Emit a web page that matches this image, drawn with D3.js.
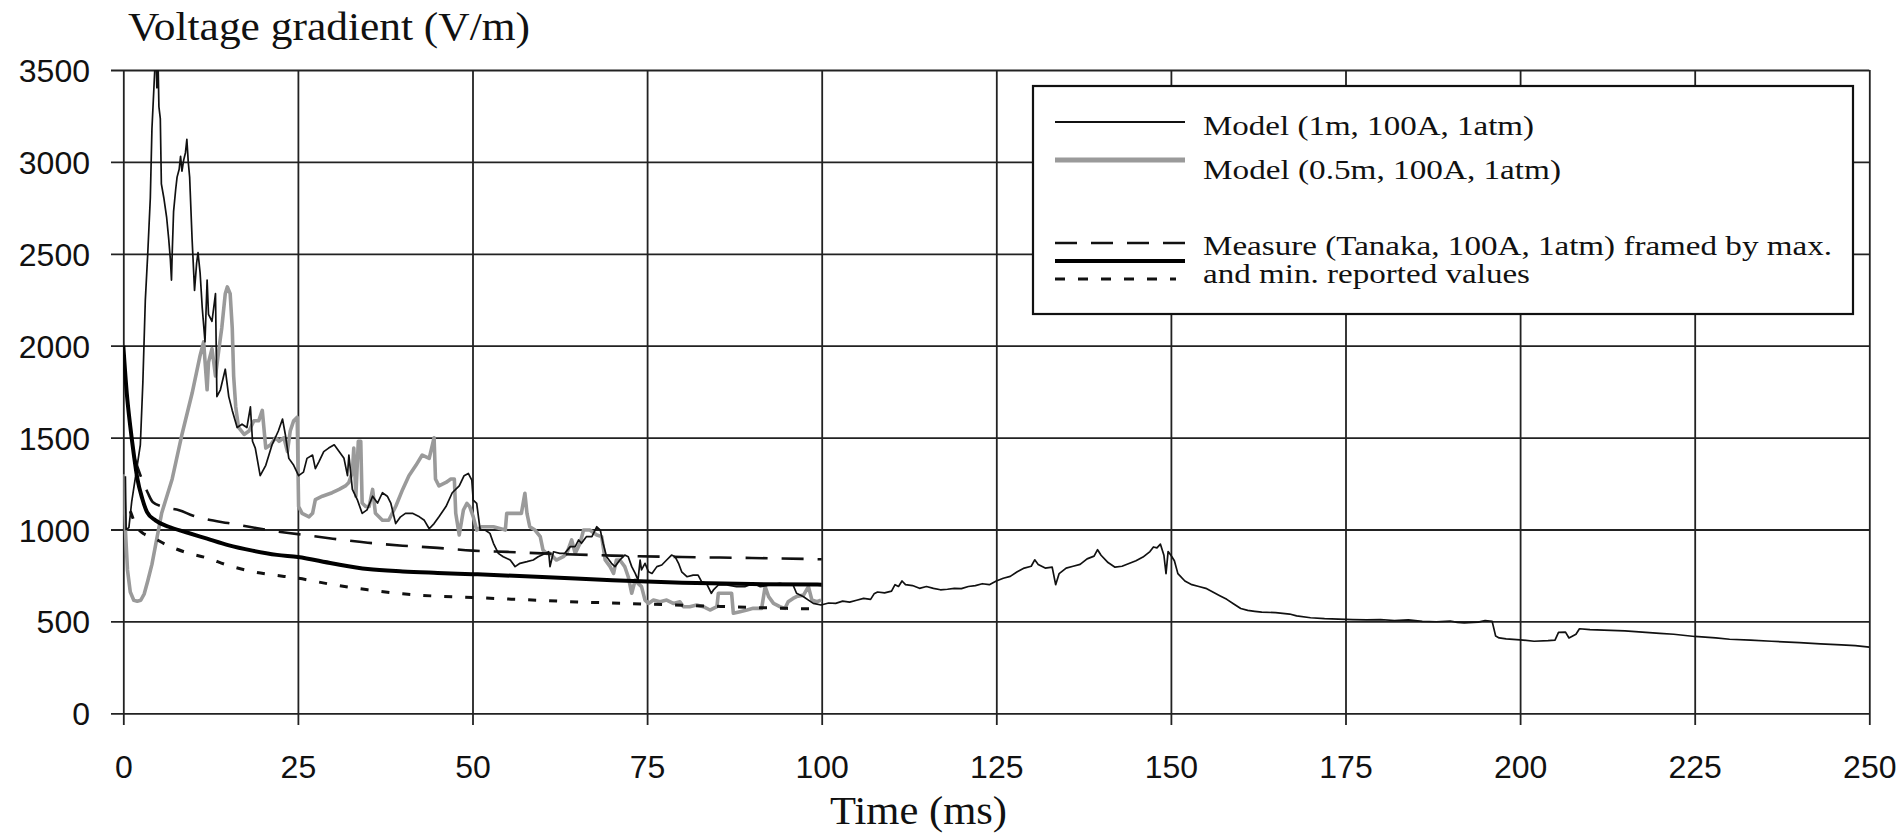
<!DOCTYPE html>
<html><head><meta charset="utf-8">
<script src="https://cdn.jsdelivr.net/npm/d3@7"></script>
<style>body{margin:0;background:#fff;} svg{display:block}</style>
</head><body>
<svg id="chart" width="1904" height="836"></svg>
<script>
// ---- data ----
const timeTicks = [0, 25, 50, 75, 100, 125, 150, 175, 200, 225, 250];
const valueTicks = [0, 500, 1000, 1500, 2000, 2500, 3000, 3500];
const yTitle = "Voltage gradient (V/m)";
const xTitle = "Time (ms)";
const legendLabels = ["Model (1m, 100A, 1atm)", "Model (0.5m, 100A, 1atm)",
  "Measure (Tanaka, 100A, 1atm) framed by max.", "and min. reported values"];

// Model (1m, 100A, 1atm) : [time ms, V/m]
const model1m = [[0.3,1290],[0.4,1000],[0.8,1010],[1.2,1150],[1.8,1300],[2.44,1461],[2.8,1800],[3.15,2245],[3.5,2500],[3.87,2805],[4.1,3179],[4.5,3496],[4.6,3650],[4.7,3600],[4.8,3403],[5.0,3500],[5.1,3300],[5.3,3235],[5.45,2880],[5.8,2805],[6.2,2700],[6.5,2581],[6.74,2469],[6.9,2357],[7.0,2500],[7.2,2731],[7.5,2850],[7.7,2917],[8.0,2960],[8.2,3030],[8.4,2950],[8.65,3011],[8.9,3050],[9.1,3123],[9.3,3000],[9.5,2917],[9.85,2581],[10.2,2301],[10.5,2450],[10.7,2507],[11.0,2395],[11.3,2208],[11.7,2021],[12.0,2357],[12.2,2171],[12.7,2133],[13.2,2283],[13.4,1723],[13.9,1760],[14.6,1872],[15.1,1723],[15.6,1648],[16.3,1555],[17.0,1573],[17.7,1555],[18.2,1667],[18.5,1480],[18.9,1443],[19.6,1293],[20.4,1349],[21.3,1461],[22.2,1536],[22.8,1601],[23.2,1517],[23.7,1387],[24.4,1349],[25.1,1293],[25.8,1312],[26.3,1387],[27.1,1405],[27.5,1331],[28.0,1368],[28.7,1424],[29.4,1443],[30.2,1461],[30.9,1424],[31.6,1387],[32.1,1293],[32.3,1405],[32.8,1218],[33.5,1163],[34.2,1088],[34.9,1107],[35.7,1181],[36.4,1144],[37.1,1200],[37.8,1181],[38.3,1144],[39.0,1032],[39.7,1069],[40.4,1088],[41.4,1088],[42.4,1069],[43.1,1050],[43.8,1004],[44.5,1032],[45.2,1069],[46.2,1125],[47.1,1200],[48.1,1237],[48.8,1293],[49.4,1305],[49.9,1269],[50.1,1160],[50.6,1142],[51.1,997],[51.8,997],[52.5,979],[53.0,925],[53.7,870],[54.4,852],[55.4,834],[56.1,798],[56.8,816],[57.8,825],[58.7,834],[59.4,852],[60.4,870],[60.9,879],[61.1,798],[61.6,879],[62.5,870],[63.2,870],[64.0,907],[64.7,907],[65.2,943],[65.6,925],[66.3,961],[67.1,961],[67.8,1015],[68.3,997],[68.7,925],[69.2,852],[69.9,816],[70.4,798],[71.1,834],[71.8,861],[72.3,852],[72.8,798],[73.3,761],[73.7,725],[74.0,834],[74.2,780],[74.7,816],[75.2,770],[75.7,761],[76.4,798],[77.1,807],[77.8,834],[78.5,861],[79.0,852],[79.5,816],[79.95,770],[80.7,743],[81.6,752],[82.3,752],[82.8,716],[83.5,707],[84.2,653],[84.5,671],[85.2,698],[86.4,698],[87.8,689],[89.0,689],[90.2,707],[91.2,689],[92.6,698],[94.0,707],[95.2,698],[95.9,698],[96.4,653],[97.4,634],[98.1,616],[98.8,598],[99.9,589],
[101,600],[102,598],[103,610],[104,605],[105,615],[106,625],[107,620],[107.5,650],[108,660],[109,655],[110,665],[110.5,700],[111,690],[111.5,720],[112,700],[113,695],[114,680],[115,690],[116,680],[117,672],[118,675],[119,680],[120,678],[121,690],[122,695],[123,705],[124,700],[125,720],[126,735],[127,745],[128,770],[129,790],[130,800],[130.5,835],[131,810],[132,790],[133,795],[133.5,700],[134,760],[135,790],[136,800],[137,810],[138,840],[139,855],[139.5,890],[140,860],[141,820],[142,795],[143,800],[144,815],[145,830],[146,850],[147,880],[147.5,905],[148,900],[148.5,920],[149,860],[149.3,760],[149.6,880],[150,860],[150.5,830],[151,760],[152,720],[153,700],[154,690],[155,680],[156,660],[157,640],[158,620],[159,595],[160,570],[161,560],[162,555],[163,550],[165,548],[167,540],[168,530],[170,520],[172,515],[174,512],[176,510],[178,508],[180,510],[182,505],[184,508],[186,500],[188,498],[190,502],[191,495],[192,492],[194,496],[195,505],[196,500],[196.5,420],[197,410],[198,405],[200,400],[202,392],[204,395],[205,398],[205.5,440],[206.5,442],[207,410],[208,430],[208.5,460],[210,455],[212,452],[215,448],[218,440],[220,435],[222,430],[225,418],[228,410],[230,403],[233,398],[236,392],[240,385],[243,378],[246,372],[248,368],[250,360]];

// Model (0.5m, 100A, 1atm)
const model05m = [[0,1300],[0.3,1000],[0.6,780],[1.0,660],[1.5,615],[2.0,610],[2.5,615],[3.0,650],[3.5,720],[4.1,810],[5.5,1090],[7.0,1275],[8.4,1517],[9.85,1741],[11.0,1947],[11.5,2021],[12.0,1760],[12.2,1909],[12.7,1984],[13.2,1835],[13.7,1984],[14.1,2096],[14.6,2283],[14.9,2320],[15.3,2283],[15.6,2096],[15.8,1835],[16.1,1667],[16.5,1555],[17.3,1517],[18.0,1536],[18.7,1592],[19.4,1592],[19.9,1648],[20.4,1443],[21.1,1461],[21.8,1499],[22.3,1480],[23.0,1499],[23.5,1424],[23.9,1536],[24.4,1592],[24.9,1611],[25.1,1125],[25.6,1088],[26.6,1069],[27.1,1088],[27.5,1163],[28.5,1181],[29.9,1200],[30.9,1218],[31.8,1237],[32.3,1256],[32.8,1312],[33.0,1443],[33.3,1181],[33.65,1480],[34.0,1480],[34.2,1144],[34.7,1125],[35.2,1125],[35.7,1218],[36.1,1088],[37.1,1050],[38.0,1050],[39.0,1125],[40.0,1218],[40.9,1293],[41.9,1349],[42.8,1405],[43.8,1387],[44.5,1499],[44.7,1275],[45.2,1237],[46.2,1256],[46.9,1275],[47.4,1275],[47.6,1088],[48.1,970],[48.7,1106],[49.2,1142],[49.6,1124],[50.1,1070],[50.6,997],[51.3,1015],[52.0,1015],[53.0,1015],[53.9,1006],[54.7,997],[54.9,1088],[55.9,1088],[57.0,1088],[57.5,1197],[57.8,1088],[58.2,1015],[58.95,997],[59.7,961],[60.1,888],[60.6,870],[61.1,870],[62.0,834],[63.0,852],[63.5,870],[64.2,943],[64.7,870],[65.4,925],[65.9,997],[66.8,997],[67.8,970],[68.5,961],[69.0,834],[69.7,798],[70.2,761],[70.6,834],[71.1,834],[71.8,798],[72.3,743],[72.8,653],[73.3,725],[73.7,707],[74.2,689],[74.7,616],[75.2,598],[75.9,616],[76.85,607],[77.8,616],[78.75,598],[79.7,607],[80.2,580],[81.1,580],[82.1,589],[83.05,580],[84.0,562],[85.0,580],[85.2,653],[86.4,653],[87.1,653],[87.35,544],[88.3,553],[89.3,562],[90.2,571],[91.4,571],[91.9,689],[92.4,635],[93.1,598],[94.0,580],[94.75,571],[95.2,607],[95.9,625],[96.4,635],[97.4,643],[98.1,689],[98.6,616],[99.3,607],[99.9,616]];

// Measure (Tanaka) max / mean / min
const measureMax = [[1.5,1400],[2.5,1290],[3.5,1200],[4.2,1150],[6,1120],[8,1105],[10,1075],[12,1055],[15,1035],[18,1015],[21,995],[25,975],[30,950],[35,928],[40,912],[45,900],[50,885],[55,878],[60,870],[70,858],[80,850],[90,845],[100,838]];
const measureMean = [[0,2000],[0.5,1740],[1,1560],[1.5,1410],[2,1280],[2.7,1170],[3.4,1095],[4.6,1050],[6.5,1015],[9,985],[12,950],[15,915],[18.5,885],[22,862],[25,850],[30,815],[35,785],[40,772],[45,764],[50,757],[60,742],[70,724],[80,710],[90,703],[100,700]];
const measureMin = [[1,1100],[2,1010],[3,975],[4,960],[6,920],[9,875],[12,845],[15,805],[18,775],[21,755],[25,735],[30,700],[35,672],[40,650],[45,637],[50,630],[55,622],[60,614],[65,606],[70,600],[75,594],[80,588],[85,582],[90,576],[95,571],[100,567]];

// ---- drawing ----
const svg = d3.select("#chart");
const x = d3.scaleLinear().domain([0, 250]).range([123.3, 1869.3]);
const y = d3.scaleLinear().domain([0, 3500]).range([713.3, 70]);
const gridColor = "#222";

// x grid + labels
const xAxisY = 725;
const gx = svg.append("g").attr("transform", `translate(0,${xAxisY})`)
  .call(d3.axisBottom(x).tickValues(timeTicks).tickFormat(d3.format("d"))
    .tickSize(-(xAxisY - y(3500))).tickPadding(30));
gx.select(".domain").remove();
gx.selectAll(".tick line").attr("stroke", gridColor).attr("stroke-width", 1.8);
gx.selectAll(".tick text").attr("font-family", "'Liberation Sans', Arial, sans-serif")
  .attr("font-size", 32).attr("fill", "#111");

// y grid + labels
const yAxisX = 111;
const gy = svg.append("g").attr("transform", `translate(${yAxisX},0)`)
  .call(d3.axisLeft(y).tickValues(valueTicks).tickFormat(d3.format("d"))
    .tickSize(-(x(250) - yAxisX)).tickPadding(21));
gy.select(".domain").remove();
gy.selectAll(".tick line").attr("stroke", gridColor).attr("stroke-width", 1.8);
gy.selectAll(".tick text").attr("font-family", "'Liberation Sans', Arial, sans-serif")
  .attr("font-size", 32).attr("fill", "#111").attr("dy", "0.36em");

// clip
svg.append("clipPath").attr("id", "plotclip").append("rect")
  .attr("x", x(0)).attr("y", y(3500)).attr("width", x(250) - x(0)).attr("height", y(0) - y(3500));

const line = d3.line().x(d => x(d[0])).y(d => y(d[1]));
const plot = svg.append("g").attr("clip-path", "url(#plotclip)");

plot.append("path").datum(model05m).attr("d", line).attr("fill", "none")
  .attr("stroke", "#9a9a9a").attr("stroke-width", 3.6).attr("stroke-linejoin", "round");
plot.append("path").datum(model1m).attr("d", line).attr("fill", "none")
  .attr("stroke", "#111").attr("stroke-width", 1.7).attr("stroke-linejoin", "round");
plot.append("path").datum(measureMax).attr("d", line.curve(d3.curveMonotoneX)).attr("fill", "none")
  .attr("stroke", "#111").attr("stroke-width", 2.6).attr("stroke-dasharray", "22 14");
plot.append("path").datum(measureMean).attr("d", line.curve(d3.curveMonotoneX)).attr("fill", "none")
  .attr("stroke", "#000").attr("stroke-width", 4);
plot.append("path").datum(measureMin).attr("d", line.curve(d3.curveMonotoneX)).attr("fill", "none")
  .attr("stroke", "#111").attr("stroke-width", 3).attr("stroke-dasharray", "8 13");

// titles
const serif = "'Liberation Serif', 'Times New Roman', serif";
svg.append("text").attr("x", 128).attr("y", 40).attr("font-family", serif).attr("font-size", 39)
  .attr("textLength", 402).attr("lengthAdjust", "spacingAndGlyphs").attr("fill", "#111").text(yTitle);
svg.append("text").attr("x", 830).attr("y", 824).attr("font-family", serif).attr("font-size", 40)
  .attr("textLength", 177).attr("lengthAdjust", "spacingAndGlyphs").attr("fill", "#111").text(xTitle);

// legend
const lg = svg.append("g");
lg.append("rect").attr("x", 1033).attr("y", 86).attr("width", 820).attr("height", 228)
  .attr("fill", "#fff").attr("stroke", "#111").attr("stroke-width", 2.2);
const lx1 = 1055, lx2 = 1185;
lg.append("line").attr("x1", lx1).attr("x2", lx2).attr("y1", 122).attr("y2", 122).attr("stroke", "#111").attr("stroke-width", 2.2);
lg.append("line").attr("x1", lx1).attr("x2", lx2).attr("y1", 160).attr("y2", 160).attr("stroke", "#9a9a9a").attr("stroke-width", 5);
lg.append("line").attr("x1", lx1).attr("x2", lx2).attr("y1", 243).attr("y2", 243).attr("stroke", "#111").attr("stroke-width", 2.4).attr("stroke-dasharray", "22 14");
lg.append("line").attr("x1", lx1).attr("x2", lx2).attr("y1", 261).attr("y2", 261).attr("stroke", "#000").attr("stroke-width", 4);
lg.append("line").attr("x1", lx1).attr("x2", 1176).attr("y1", 279).attr("y2", 279).attr("stroke", "#111").attr("stroke-width", 2.8).attr("stroke-dasharray", "10 13");
const legendText = [[legendLabels[0], 135, 331], [legendLabels[1], 179, 358], [legendLabels[2], 255, 629], [legendLabels[3], 283, 327]];
legendText.forEach(([t, yy, w]) => {
  lg.append("text").attr("x", 1203).attr("y", yy).attr("font-family", serif).attr("font-size", 28)
    .attr("textLength", w).attr("lengthAdjust", "spacingAndGlyphs").attr("fill", "#111").text(t);
});
</script>
</body></html>
